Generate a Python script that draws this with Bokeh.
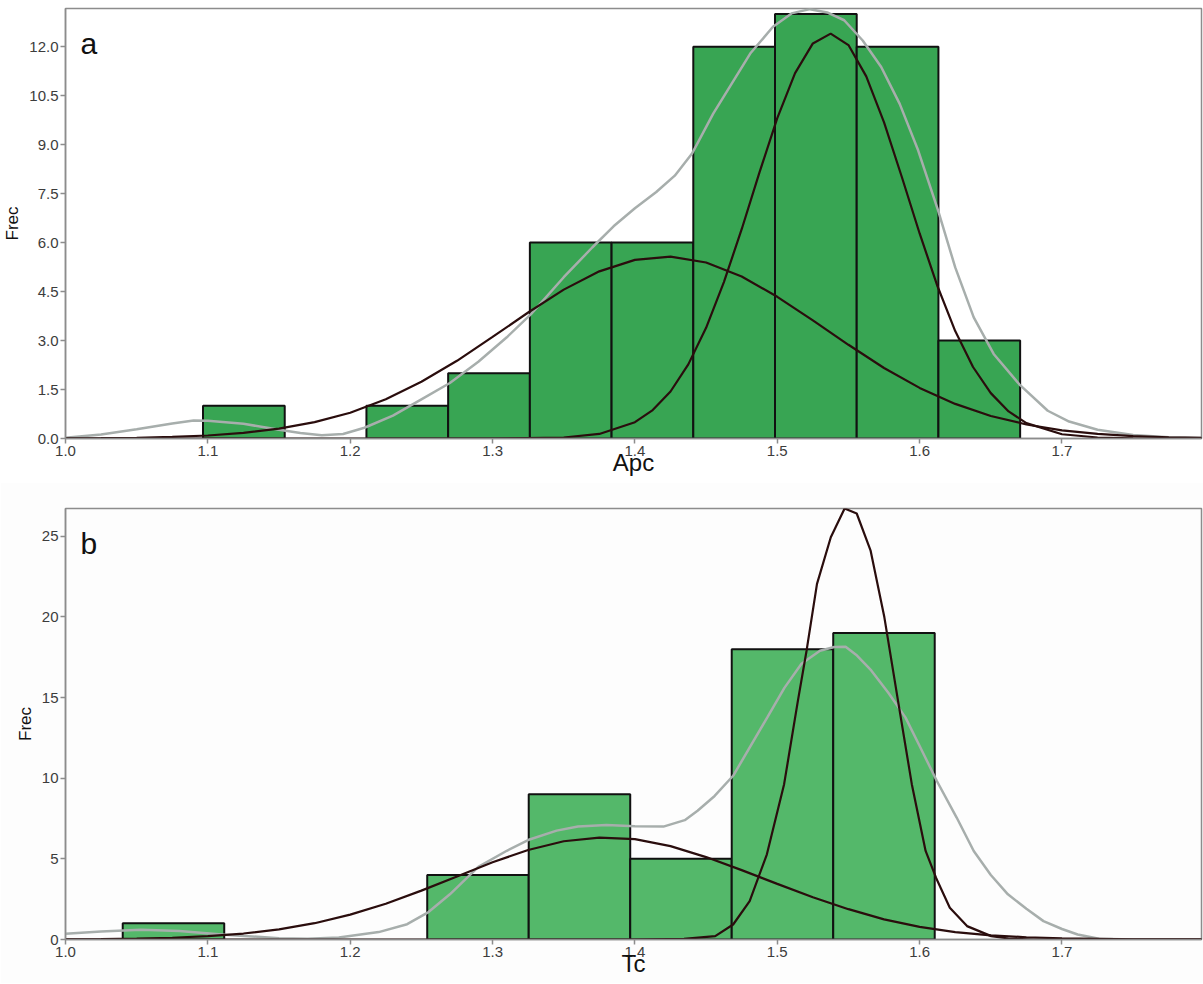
from bokeh.plotting import figure
from bokeh.layouts import column
from bokeh.models import Range1d, FixedTicker, NumeralTickFormatter, Label
from bokeh.embed import file_html
from bokeh.resources import INLINE

# ---------------- data ----------------
x_ticks = [1.0, 1.1, 1.2, 1.3, 1.4, 1.5, 1.6, 1.7]

# panel a (Apc)
a_edges = [1.0966, 1.1540, 1.2114, 1.2688, 1.3262, 1.3836, 1.4410, 1.4984, 1.5558, 1.6132, 1.6706]
a_counts = [1, 0, 1, 2, 6, 6, 12, 13, 12, 3]
a_yticks = [0.0, 1.5, 3.0, 4.5, 6.0, 7.5, 9.0, 10.5, 12.0]

a_comp1_x = [1.000, 1.025, 1.050, 1.075, 1.100, 1.125, 1.150, 1.175, 1.200, 1.225, 1.250,
             1.275, 1.300, 1.325, 1.350, 1.375, 1.400, 1.425, 1.450, 1.475, 1.500, 1.525,
             1.550, 1.575, 1.600, 1.625, 1.650, 1.675, 1.700, 1.725, 1.750, 1.775, 1.800]
a_comp1_y = [0.005, 0.011, 0.023, 0.047, 0.092, 0.17, 0.30, 0.50, 0.79, 1.20, 1.74,
             2.38, 3.11, 3.86, 4.56, 5.12, 5.47, 5.57, 5.39, 4.96, 4.34, 3.62,
             2.87, 2.16, 1.55, 1.06, 0.69, 0.43, 0.25, 0.14, 0.075, 0.038, 0.018]

a_comp2_x = [1.000, 1.300, 1.350, 1.375, 1.400, 1.4125, 1.425, 1.4375, 1.450, 1.4625,
             1.475, 1.4875, 1.500, 1.5125, 1.525, 1.5375, 1.550, 1.5625, 1.575, 1.5875,
             1.600, 1.6125, 1.625, 1.6375, 1.650, 1.6625, 1.675, 1.700, 1.725, 1.750, 1.800]
a_comp2_y = [0.0, 0.0, 0.03, 0.14, 0.50, 0.87, 1.44, 2.27, 3.39, 4.79,
             6.41, 8.15, 9.81, 11.19, 12.10, 12.40, 12.05, 11.09, 9.68, 8.01,
             6.28, 4.67, 3.29, 2.19, 1.39, 0.83, 0.47, 0.13, 0.03, 0.005, 0.0]

a_kde_x = [1.000, 1.025, 1.050, 1.075, 1.090, 1.100, 1.125, 1.150, 1.165, 1.180,
           1.195, 1.210, 1.230, 1.250, 1.270, 1.290, 1.310, 1.327, 1.350, 1.370,
           1.385, 1.400, 1.415, 1.428, 1.440, 1.455, 1.468, 1.481, 1.497, 1.510, 1.523,
           1.535, 1.547, 1.560, 1.573, 1.586, 1.599, 1.613, 1.625, 1.638, 1.652,
           1.670, 1.690, 1.705, 1.725, 1.750, 1.775, 1.800]
a_kde_y = [0.02, 0.12, 0.28, 0.46, 0.55, 0.54, 0.45, 0.27, 0.17, 0.10,
           0.14, 0.33, 0.70, 1.20, 1.70, 2.35, 3.10, 3.81, 4.94, 5.85,
           6.50, 7.05, 7.55, 8.05, 8.72, 9.95, 10.87, 11.79, 12.61, 13.02, 13.15,
           13.05, 12.81, 12.19, 11.38, 10.25, 8.82, 6.98, 5.24, 3.71, 2.59,
           1.66, 0.85, 0.52, 0.27, 0.11, 0.04, 0.01]

# panel b (Tc)
b_edges = [1.0402, 1.1115, 1.1828, 1.2541, 1.3254, 1.3967, 1.4680, 1.5393, 1.6106]
b_counts = [1, 0, 0, 4, 9, 5, 18, 19]
b_yticks = [0, 5, 10, 15, 20, 25]

b_comp1_x = [1.000, 1.025, 1.050, 1.075, 1.100, 1.125, 1.150, 1.175, 1.200, 1.225,
             1.250, 1.275, 1.300, 1.325, 1.350, 1.375, 1.400, 1.425, 1.450, 1.475,
             1.500, 1.525, 1.550, 1.575, 1.600, 1.625, 1.650, 1.675, 1.700, 1.750, 1.800]
b_comp1_y = [0.012, 0.026, 0.054, 0.11, 0.21, 0.37, 0.63, 1.01, 1.54, 2.22,
             3.03, 3.91, 4.79, 5.55, 6.09, 6.32, 6.22, 5.79, 5.11, 4.30,
             3.45, 2.62, 1.88, 1.25, 0.78, 0.46, 0.26, 0.14, 0.072, 0.016, 0.003]

b_comp2_x = [1.000, 1.400, 1.4345, 1.4564, 1.469, 1.4806, 1.4927, 1.5048, 1.5145, 1.5206,
             1.5279, 1.5376, 1.5473, 1.5558, 1.5655, 1.5752, 1.5848, 1.5945, 1.6042, 1.6115,
             1.6212, 1.6333, 1.6503, 1.6624, 1.680, 1.800]
b_comp2_y = [0.0, 0.0, 0.04, 0.21, 0.93, 2.38, 5.28, 9.63, 14.81, 17.92,
             22.05, 24.94, 26.72, 26.41, 24.13, 19.99, 14.81, 9.63, 5.49, 3.83,
             1.97, 0.83, 0.21, 0.06, 0.0, 0.0]

b_kde_x = [1.000, 1.025, 1.053, 1.080, 1.112, 1.150, 1.170, 1.192, 1.220, 1.240,
           1.255, 1.270, 1.290, 1.310, 1.326, 1.345, 1.360, 1.380, 1.400, 1.420,
           1.435, 1.444, 1.456, 1.469, 1.493, 1.505, 1.517, 1.530, 1.540, 1.548,
           1.556, 1.566, 1.578, 1.590, 1.600, 1.612, 1.626, 1.638, 1.650, 1.662,
           1.675, 1.687, 1.700, 1.711, 1.726, 1.750, 1.800]
b_kde_y = [0.36, 0.50, 0.61, 0.53, 0.30, 0.08, 0.05, 0.13, 0.46, 0.95,
           1.70, 2.80, 4.50, 5.50, 6.20, 6.75, 7.00, 7.10, 7.02, 7.00,
           7.40, 7.98, 8.90, 10.15, 13.77, 15.60, 17.09, 17.90, 18.13, 18.15,
           17.60, 16.68, 15.30, 13.77, 12.00, 9.84, 7.56, 5.49, 4.00, 2.80,
           1.90, 1.14, 0.65, 0.31, 0.05, 0.0, 0.0]

# ---------------- style ----------------
FONT = "Liberation Sans"
AXIS_GRAY = "#8c8c8c"
CURVE_DARK = "#2a0d0d"
CURVE_GRAY = "#a7aeac"


def panel(height, top_border, frame_h, ymax, yticks, yfmt, edges, counts, bar_color,
          comp1, comp2, kde, xlabel, letter, bg):
    p = figure(width=1203, height=height, x_range=Range1d(1.0, 1.798),
               y_range=Range1d(0, ymax), output_backend="svg",
               toolbar_location=None, min_border_left=64, min_border_right=2,
               min_border_top=top_border, min_border_bottom=44,
               background_fill_color=bg, border_fill_color=bg)
    p.xgrid.visible = False
    p.ygrid.visible = False
    p.outline_line_color = AXIS_GRAY
    p.outline_line_width = 1.5
    p.outline_line_alpha = 1.0

    lefts = [edges[i] for i in range(len(counts)) if counts[i] > 0]
    rights = [edges[i + 1] for i in range(len(counts)) if counts[i] > 0]
    tops = [c for c in counts if c > 0]
    p.quad(left=lefts, right=rights, top=tops, bottom=0, fill_color=bar_color,
           line_color="#111111", line_width=2)

    p.line(kde[0], kde[1], line_color=CURVE_GRAY, line_width=2.5)
    p.line(comp1[0], comp1[1], line_color=CURVE_DARK, line_width=2.2)
    p.line(comp2[0], comp2[1], line_color=CURVE_DARK, line_width=2.2)

    for ax in (p.xaxis[0], p.yaxis[0]):
        ax.axis_line_color = AXIS_GRAY
        ax.axis_line_width = 1.5
        ax.major_tick_line_color = AXIS_GRAY
        ax.major_tick_line_width = 1.5
        ax.major_tick_out = 5
        ax.major_tick_in = 0
        ax.minor_tick_out = 0
        ax.minor_tick_in = 0
        ax.major_label_text_font = FONT
        ax.major_label_text_font_size = "15px"
        ax.major_label_text_color = "#3c3c3c"
        ax.axis_label_text_font = FONT
        ax.axis_label_text_font_style = "normal"
        ax.axis_label_text_color = "#111111"

    p.xaxis.ticker = FixedTicker(ticks=x_ticks)
    p.xaxis.formatter = NumeralTickFormatter(format="0.0")
    p.xaxis.major_label_standoff = 2
    p.xaxis.axis_label = xlabel
    p.xaxis.axis_label_text_font_size = "24px"
    p.xaxis.axis_label_standoff = -10

    p.yaxis.ticker = FixedTicker(ticks=yticks)
    p.yaxis.formatter = NumeralTickFormatter(format=yfmt)
    p.yaxis.major_label_standoff = 2
    p.yaxis.axis_label = "Frec"
    p.yaxis.axis_label_text_font_size = "17px"
    p.yaxis.axis_label_standoff = 4

    p.add_layout(Label(x=1.0105, y=ymax - 35.0 * ymax / frame_h, text=letter,
                       text_font=FONT, text_font_size="30px", text_color="#111111",
                       text_baseline="alphabetic", text_align="left"))
    return p


pa = panel(482, 8, 430, 13.17, a_yticks, "0.0", a_edges, a_counts, "#38a553",
           (a_comp1_x, a_comp1_y), (a_comp2_x, a_comp2_y), (a_kde_x, a_kde_y),
           "Apc", "a", "#ffffff")
pb = panel(501, 26, 431, 26.72, b_yticks, "0", b_edges, b_counts, "#54b86a",
           (b_comp1_x, b_comp1_y), (b_comp2_x, b_comp2_y), (b_kde_x, b_kde_y),
           "Tc", "b", "#fdfdfd")

layout = column(pa, pb, spacing=0)
open("out.html", "w").write(file_html(layout, INLINE))
